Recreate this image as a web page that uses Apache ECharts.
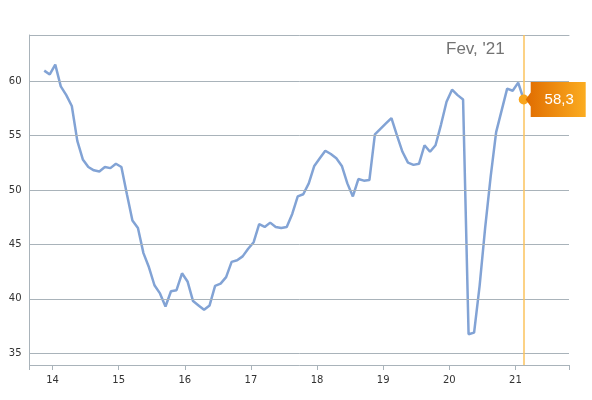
<!DOCTYPE html>
<html>
<head>
<meta charset="utf-8">
<script src="https://cdn.jsdelivr.net/npm/echarts@6/dist/echarts.min.js"></script>
<style>
  html, body { margin: 0; padding: 0; background: #fff; }
  #chart { width: 592px; height: 400px; }
</style>
</head>
<body>
<div id="chart"></div>
<script>
// monthly readings, Nov 2013 .. Feb 2021
const months = [
  '2013-11', '2013-12',
  '2014-01', '2014-02', '2014-03', '2014-04', '2014-05', '2014-06', '2014-07', '2014-08', '2014-09', '2014-10', '2014-11', '2014-12',
  '2015-01', '2015-02', '2015-03', '2015-04', '2015-05', '2015-06', '2015-07', '2015-08', '2015-09', '2015-10', '2015-11', '2015-12',
  '2016-01', '2016-02', '2016-03', '2016-04', '2016-05', '2016-06', '2016-07', '2016-08', '2016-09', '2016-10', '2016-11', '2016-12',
  '2017-01', '2017-02', '2017-03', '2017-04', '2017-05', '2017-06', '2017-07', '2017-08', '2017-09', '2017-10', '2017-11', '2017-12',
  '2018-01', '2018-02', '2018-03', '2018-04', '2018-05', '2018-06', '2018-07', '2018-08', '2018-09', '2018-10', '2018-11', '2018-12',
  '2019-01', '2019-02', '2019-03', '2019-04', '2019-05', '2019-06', '2019-07', '2019-08', '2019-09', '2019-10', '2019-11', '2019-12',
  '2020-01', '2020-02', '2020-03', '2020-04', '2020-05', '2020-06', '2020-07', '2020-08', '2020-09', '2020-10', '2020-11', '2020-12',
  '2021-01', '2021-02'
]
const values = [
  60.95, 60.6,
  61.5, 59.5, 58.7, 57.7, 54.5, 52.8, 52.1, 51.8, 51.7, 52.1, 52.0, 52.4,
  52.1, 49.6, 47.2, 46.5, 44.2, 42.9, 41.25, 40.5, 39.3, 40.7, 40.8, 42.35,
  41.6, 39.8, 39.4, 39.0, 39.4, 41.2, 41.4, 42.0, 43.4, 43.55, 43.9, 44.6,
  45.2, 46.85, 46.6, 47.0, 46.6, 46.5, 46.6, 47.8, 49.4, 49.6, 50.6, 52.2,
  52.9, 53.6, 53.3, 52.9, 52.2, 50.6, 49.4, 51.0, 50.85, 50.9, 55.1, 55.6,
  56.1, 56.6, 55.0, 53.5, 52.5, 52.3, 52.4, 54.1, 53.5, 54.1, 56.0, 58.1,
  59.2, 58.7, 58.3, 36.75, 36.9, 41.2, 46.5, 51.2, 55.3, 57.3, 59.3, 59.1,
  59.85, 58.3
]
const yearTicks = [14, 15, 16, 17, 18, 19, 20, 21]
const yTicks = [35, 40, 45, 50, 55, 60]
const lastLabel = "Fev, '21"
const lastValueText = '58,3'

const xMin = 13.652
const xMax = 21.81
const yMin = 33.93
const yMax = 64.22

// month -> position on the year axis (mid-month)
const toT = (m) => {
  const [y, mo] = m.split('-').map(Number)
  return y - 2000 + (mo - 0.5) / 12
}
const points = months.map((m, i) => [toT(m), values[i]])
const lastPoint = points[points.length - 1]

const gridColor = '#A9B3BA'
const chart = echarts.init(document.getElementById('chart'))

const option = {
  animation: false,
  grid: { left: 29.5, right: 23, top: 35, bottom: 35 },
  xAxis: [{
    type: 'value',
    min: xMin,
    max: xMax,
    splitLine: { show: false },
    axisLine: { show: true, onZero: false, lineStyle: { color: gridColor, width: 1 } },
    axisTick: { show: true, length: 5, customValues: [xMin].concat(yearTicks, [xMax]), lineStyle: { color: gridColor } },
    axisLabel: {
      customValues: yearTicks,
      formatter: (v) => String(v),
      margin: 10,
      fontFamily: 'DejaVu Sans',
      fontSize: 10,
      color: '#333'
    }
  }, {
    type: 'value',
    position: 'top',
    min: 0,
    max: 1,
    splitLine: { show: false },
    axisLine: { show: true, lineStyle: { color: gridColor, width: 1 } },
    axisTick: { show: false },
    axisLabel: { show: false }
  }],
  yAxis: {
    type: 'value',
    min: yMin,
    max: yMax,
    splitLine: { show: false },
    axisLine: { show: true, lineStyle: { color: gridColor, width: 1 } },
    axisTick: { show: false },
    axisLabel: {
      customValues: yTicks,
      margin: 8,
      fontFamily: 'DejaVu Sans',
      fontSize: 10,
      color: '#333'
    }
  },
  series: [{
    type: 'line',
    data: points,
    showSymbol: false,
    lineStyle: { color: '#82A3D5', width: 2.5 },
    z: 3,
    markLine: {
      silent: true,
      symbol: 'none',
      label: { show: false },
      data: yTicks.map(v => ({ yAxis: v, lineStyle: { color: gridColor, width: 1, type: 'solid' } }))
        .concat([{ xAxis: lastPoint[0], lineStyle: { color: '#FBC35E', width: 1.5, type: 'solid' } }])
    },
    markPoint: {
      silent: true,
      symbol: 'circle',
      symbolSize: 10,
      itemStyle: { color: '#F9A51C' },
      label: { show: false },
      data: [{ coord: lastPoint }]
    }
  }]
}

chart.setOption(option)

// callout and date label next to the last point
const [px, py] = chart.convertToPixel({ seriesIndex: 0 }, lastPoint)
const bx = px + 7
const bw = 55
const bh = 35
chart.setOption({
  graphic: [{
    type: 'polygon',
    z: 10,
    shape: {
      points: [
        [px + 2, py], [bx, py - 7], [bx, py - bh / 2], [bx + bw, py - bh / 2],
        [bx + bw, py + bh / 2], [bx, py + bh / 2], [bx, py + 7]
      ]
    },
    style: {
      fill: new echarts.graphic.LinearGradient(0, 0, 1, 0, [
        { offset: 0, color: '#E06C00' },
        { offset: 1, color: '#FBAC20' }
      ])
    }
  }, {
    type: 'text',
    z: 11,
    x: bx + bw / 2 + 1,
    y: py,
    style: {
      text: lastValueText,
      fill: '#fff',
      font: '15px "Liberation Sans", Arial, sans-serif',
      align: 'center',
      verticalAlign: 'middle'
    }
  }, {
    type: 'text',
    z: 11,
    x: px - 19,
    y: 49,
    style: {
      text: lastLabel,
      fill: '#737373',
      font: '17px "Liberation Sans", Arial, sans-serif',
      align: 'right',
      verticalAlign: 'middle'
    }
  }]
})

window.addEventListener('resize', () => chart.resize())
</script>
</body>
</html>
